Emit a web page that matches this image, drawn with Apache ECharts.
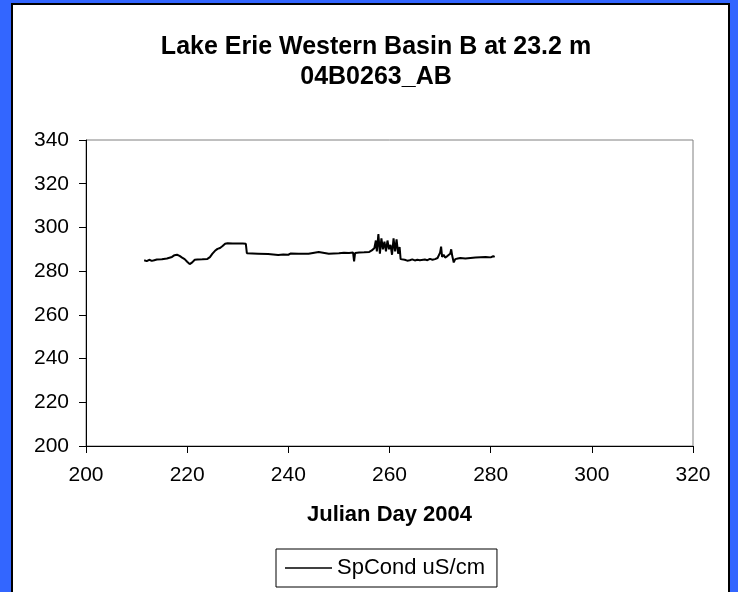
<!DOCTYPE html>
<html>
<head>
<meta charset="utf-8">
<script src="https://cdn.jsdelivr.net/npm/echarts@6/dist/echarts.min.js"></script>
<style>html,body{margin:0;padding:0;background:#3366ff;}#c{width:738px;height:592px;}</style>
</head>
<body>
<div id="c"></div>
<script>
const titleLines = ['Lake Erie Western Basin B at 23.2 m', '04B0263_AB'];
const xAxisName = 'Julian Day 2004';
const seriesName = 'SpCond uS/cm';
const xTicks = { min: 200, max: 320, interval: 20 };
const yTicks = { min: 200, max: 340, interval: 20 };
const days = [211.5,212.0,212.5,213.0,213.5,214.0,215.0,216.0,217.0,217.5,218.0,218.5,219.0,219.5,220.0,220.5,221.0,221.5,222.0,223.0,224.0,224.5,225.0,225.5,226.0,226.5,227.0,227.5,228.0,229.0,230.0,231.0,231.6,231.8,232.0,234.0,236.0,237.0,238.0,239.0,240.0,240.5,242.0,243.0,244.0,244.3,246.0,246.3,248.0,250.0,251.0,252.0,252.8,253.0,253.2,254.0,255.0,256.0,256.5,257.0,257.3,257.5,257.8,258.1,258.4,258.7,259.0,259.3,259.6,259.9,260.2,260.5,260.8,261.1,261.4,261.7,262.0,262.2,262.5,263.0,263.5,264.0,264.5,265.0,265.5,266.0,267.0,267.5,268.0,268.5,269.0,269.5,270.0,270.2,270.4,270.7,271.0,271.5,272.0,272.2,272.4,272.7,273.0,273.5,274.0,275.0,276.0,277.0,278.0,279.0,280.0,280.5,280.8];
const spcond = [285.0,284.6,285.2,284.7,285.0,285.3,285.4,285.8,286.5,287.3,287.5,287.0,286.2,285.5,284.3,283.2,284.0,285.2,285.3,285.4,285.6,286.4,288.0,289.3,290.2,290.6,291.5,292.5,292.8,292.6,292.6,292.6,292.5,288.2,288.0,288.0,287.8,287.6,287.4,287.6,287.5,288.1,288.0,288.0,288.0,288.8,288.8,288.0,288.0,288.2,288.4,288.3,288.5,284.5,288.3,288.5,288.6,288.8,289.5,290.5,294.0,289.0,297.0,288.0,295.0,290.0,293.5,289.0,294.0,290.0,292.0,287.5,295.0,289.0,294.5,288.0,291.0,285.5,284.8,285.2,284.8,285.0,285.4,284.9,285.2,285.0,285.3,285.0,285.6,285.2,285.5,286.0,288.5,291.2,286.5,287.5,286.2,287.0,288.0,290.0,287.0,284.0,285.5,285.8,286.0,285.8,286.0,286.2,286.4,286.5,286.3,286.8,286.5];

const FONT = '"Liberation Sans", Arial, sans-serif';
const chart = echarts.init(document.getElementById('c'), null, { renderer: 'canvas' });
chart.setOption({
  backgroundColor: '#3366ff',
  animation: false,
  graphic: [{
    type: 'rect', z: -10, silent: true,
    shape: { x: 12, y: 4, width: 717, height: 600 },
    style: { fill: '#ffffff', stroke: '#000000', lineWidth: 2 }
  }],
  title: {
    text: titleLines.join('\n'),
    left: 371, top: 27, textAlign: 'center',
    textStyle: { fontFamily: FONT, fontWeight: 'bold', fontSize: 25, lineHeight: 30, color: '#000' }
  },
  legend: {
    left: 276, top: 549, orient: 'horizontal',
    padding: [8, 12, 8, 9],
    borderColor: '#000', borderWidth: 1,
    icon: 'rect', itemWidth: 47, itemHeight: 1.5, itemGap: 5,
    textStyle: { fontFamily: FONT, fontSize: 22, color: '#000', padding: [0, 0, 0, 0] },
    data: [seriesName]
  },
  grid: {
    left: 86, top: 140, width: 607, height: 306,
    show: true, borderColor: '#808080', borderWidth: 1, backgroundColor: '#ffffff'
  },
  xAxis: {
    type: 'value', min: xTicks.min, max: xTicks.max, interval: xTicks.interval,
    name: xAxisName, nameLocation: 'middle', nameGap: 58,
    nameTextStyle: { fontFamily: FONT, fontWeight: 'bold', fontSize: 22, color: '#000' },
    axisLine: { show: true, lineStyle: { color: '#000', width: 1 } },
    axisTick: { show: true, inside: false, length: 7, lineStyle: { color: '#000' } },
    axisLabel: { fontFamily: FONT, fontSize: 21, color: '#000', margin: 19 },
    splitLine: { show: false }
  },
  yAxis: {
    type: 'value', min: yTicks.min, max: yTicks.max, interval: yTicks.interval,
    axisLine: { show: true, lineStyle: { color: '#000', width: 1 } },
    axisTick: { show: true, inside: false, length: 7, lineStyle: { color: '#000' } },
    axisLabel: { fontFamily: FONT, fontSize: 21, color: '#000', margin: 17 },
    splitLine: { show: false }
  },
  series: [{
    name: seriesName, type: 'line',
    data: days.map((d, i) => [d, spcond[i]]),
    showSymbol: false, symbol: 'none',
    lineStyle: { color: '#000', width: 2 },
    itemStyle: { color: '#000' }
  }]
});
</script>
</body>
</html>
